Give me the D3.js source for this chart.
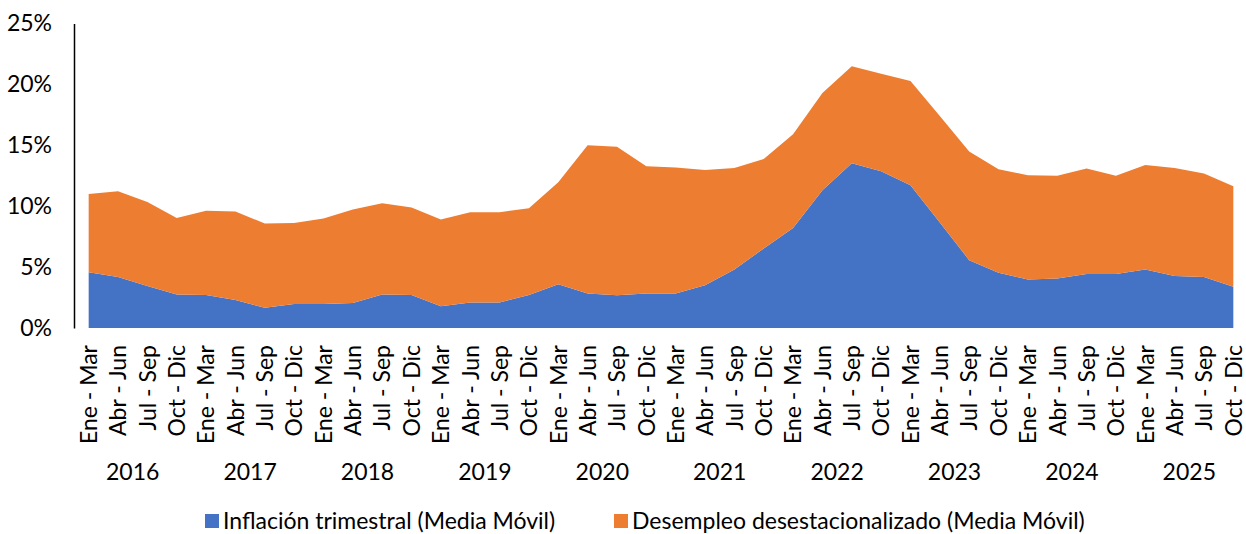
<!DOCTYPE html>
<html>
<head>
<meta charset="utf-8">
<script src="https://cdn.jsdelivr.net/npm/d3@7"></script>
<style>
  body { margin: 0; background: #fff; }
  svg text { font-family: Lato, "Open Sans", sans-serif; fill: #000; }
</style>
</head>
<body>
<svg id="chart"></svg>
<script>
// Chart data
const quarters = ["Ene - Mar", "Abr - Jun", "Jul - Sep", "Oct - Dic"];
const years = ["2016", "2017", "2018", "2019", "2020", "2021", "2022", "2023", "2024", "2025"];

// Inflación trimestral (Media Móvil), %
const inflacion = [
  4.57, 4.18, 3.44, 2.76, 2.70, 2.30, 1.66, 1.97, 1.97, 2.05,
  2.76, 2.70, 1.78, 2.10, 2.10, 2.70, 3.60, 2.84, 2.68, 2.84,
  2.84, 3.52, 4.81, 6.53, 8.22, 11.30, 13.52, 12.87, 11.72, 8.66,
  5.57, 4.53, 3.99, 4.07, 4.43, 4.43, 4.81, 4.26, 4.18, 3.39
];

// Desempleo desestacionalizado (Media Móvil), %
const desempleo = [
  6.43, 7.05, 6.91, 6.28, 6.92, 7.26, 6.92, 6.66, 7.02, 7.68,
  7.49, 7.19, 7.13, 7.40, 7.40, 7.14, 8.37, 12.16, 12.21, 10.44,
  10.33, 9.46, 8.33, 7.35, 7.68, 8.00, 7.98, 8.00, 8.55, 8.74,
  8.93, 8.50, 8.55, 8.42, 8.66, 8.06, 8.58, 8.88, 8.50, 8.25
];

const yTicks = [0, 5, 10, 15, 20, 25];
const seriesNames = ["Inflación trimestral (Media Móvil)", "Desempleo desestacionalizado (Media Móvil)"];
const colors = ["#4472C4", "#ED7D31"];

// Table built from the arrays
const labels = [];
years.forEach(y => quarters.forEach(q => labels.push(q)));
const rows = labels.map((q, i) => ({ i: i, inf: inflacion[i], des: desempleo[i] }));

// SVG setup
const W = 1246, H = 534;
const fontSize = "23px";
const svg = d3.select("#chart").attr("width", W).attr("height", H);

const x = d3.scaleBand().domain(d3.range(labels.length)).range([74, 1248]).padding(0);
const y = d3.scaleLinear().domain([0, 25]).range([328, 23.5]);
const cx = i => x(i) + x.bandwidth() / 2;

// Stacked areas
const stack = d3.stack().keys(["inf", "des"]);
const layers = stack(rows);

const area = d3.area()
  .x(d => cx(d.data.i))
  .y0(d => y(d[0]))
  .y1(d => y(d[1]));

svg.append("g").selectAll("path")
  .data(layers)
  .join("path")
  .attr("d", area)
  .attr("fill", (d, i) => colors[i]);

// Y axis
const yAxis = svg.append("g")
  .attr("transform", "translate(74,0)")
  .call(d3.axisLeft(y).tickValues(yTicks).tickSize(0).tickPadding(22).tickFormat(d => d + "%"));
yAxis.select(".domain").attr("stroke", "#000").attr("stroke-width", 1.5);
yAxis.selectAll("text").style("font-size", fontSize);

// X axis, rotated quarter labels
const xAxis = svg.append("g")
  .attr("transform", "translate(0,328)")
  .call(d3.axisBottom(x).tickSize(0).tickFormat(i => labels[i]));
xAxis.select(".domain").remove();
xAxis.selectAll("text")
  .style("font-size", fontSize)
  .attr("transform", "rotate(-90)")
  .attr("text-anchor", "end")
  .attr("x", -17)
  .attr("y", 0)
  .attr("dy", "0.36em");

// Year labels
svg.append("g").selectAll("text")
  .data(years)
  .join("text")
  .attr("x", (d, k) => (cx(k * 4) + cx(k * 4 + 3)) / 2)
  .attr("y", 472)
  .attr("dy", "0.35em")
  .attr("text-anchor", "middle")
  .style("font-size", fontSize)
  .text(d => d);

// Legend
const legendX = [205, 614];
const legend = svg.append("g").selectAll("g")
  .data(seriesNames)
  .join("g")
  .attr("transform", (d, i) => `translate(${legendX[i]},521)`);
legend.append("rect")
  .attr("x", 0).attr("y", -7)
  .attr("width", 14).attr("height", 14)
  .attr("fill", (d, i) => colors[i]);
legend.append("text")
  .attr("x", 18)
  .attr("dy", "0.35em")
  .style("font-size", fontSize)
  .text(d => d);
</script>
</body>
</html>
